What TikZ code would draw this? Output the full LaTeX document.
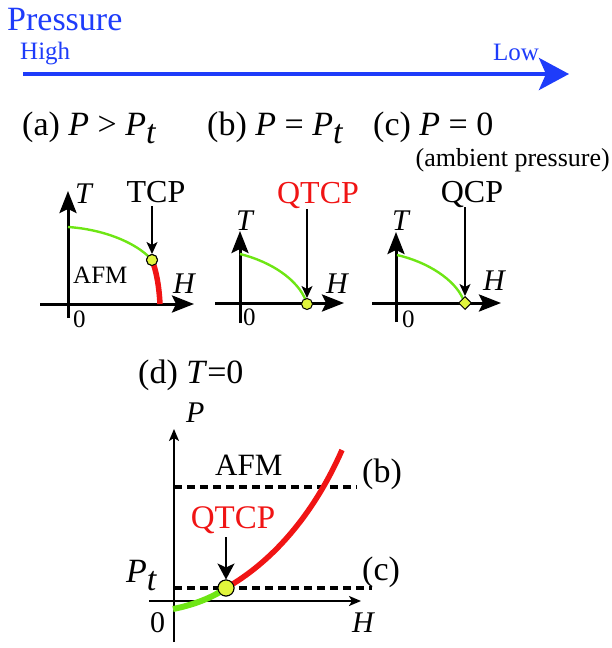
\documentclass[tikz,border=0pt]{standalone}
\usepackage{fontspec}
\setmainfont{Liberation Serif}
\usetikzlibrary{arrows.meta,shapes.geometric}
\definecolor{pblue}{RGB}{30,60,250}
\definecolor{cgreen}{RGB}{110,230,20}
\definecolor{cred}{RGB}{240,20,20}
\definecolor{cyel}{RGB}{225,245,60}
\tikzset{
  bigaxis/.style={line width=3pt,-{Stealth[length=22pt,width=17pt,inset=4pt]}},
  smallaxis/.style={line width=1.8pt,-{Stealth[length=12pt,width=10pt,inset=3pt]}},
  pointer/.style={line width=1.4pt,-{Stealth[length=12pt,width=11pt,inset=3pt]}},
  thingreen/.style={cgreen,line width=2.4pt},
  thickgreen/.style={cgreen,line width=6pt},
  thickred/.style={cred,line width=5.5pt},
  dline/.style={line width=3.4pt,dash pattern=on 8pt off 5pt},
  crit/.style={circle,draw=black,line width=1pt,fill=cyel,inner sep=0pt},
  lab/.style={inner sep=0pt,anchor=base west,font=\fontsize{34}{36}\selectfont},
  axlab/.style={inner sep=0pt,anchor=base west,font=\fontsize{30}{32}\selectfont\itshape},
  zlab/.style={inner sep=0pt,anchor=base west,font=\fontsize{25}{27}\selectfont},
}
\newcommand{\subt}{\raisebox{-8pt}{\textit{t}}}
\begin{document}
\begin{tikzpicture}[x=1pt,y=-1pt]
\useasboundingbox (0,0) rectangle (611,648);
% pressure arrow
\node[anchor=base west,inner sep=0pt,text=pblue,font=\fontsize{34}{36}\selectfont] (pr) at (7,30) {Pressure};
\node[anchor=base west,inner sep=0pt,text=pblue,font=\fontsize{25}{27}\selectfont] (hi) at (20,59) {High};
\node[anchor=base west,inner sep=0pt,text=pblue,font=\fontsize{25}{27}\selectfont] (lo) at (493,60) {Low};
\coordinate (pa) at (23,74);
\coordinate (pb) at (569,74);
\draw[pblue,line width=4pt,-{Stealth[length=30pt,width=32pt,inset=7pt]}] (pa) -- (pb);
% headings
\node[lab] (ha) at (22,135) {(a) \textit{P} > \textit{P}\subt};
\node[lab] (hb) at (207,135) {(b) \textit{P} = \textit{P}\subt};
\node[lab] (hc) at (373,135) {(c) \textit{P} = 0};
\node[inner sep=0pt,anchor=base east,font=\fontsize{26}{28}\selectfont] (amb) at (610,166) {(ambient pressure)};
% panel (a)
\coordinate (a0) at (68,318);
\coordinate (aT) at (68,191);
\coordinate (aL) at (40,304);
\coordinate (aH) at (194,304);
\draw[bigaxis] (a0) -- (aT);
\draw[bigaxis] (aL) -- (aH);
\node[axlab] (aTl) at (75,203) {T};
\node[axlab] (aHl) at (173,293) {H};
\node[zlab] (a0l) at (73,327) {0};
\node[inner sep=0pt,anchor=base west,font=\fontsize{25}{27}\selectfont] (afa) at (73,283) {AFM};
\node[inner sep=0pt,anchor=base,font=\fontsize{32}{34}\selectfont] (tcp) at (156,202) {TCP};
\node[crit,minimum size=11pt] (ca) at (152,260) {};
\draw[thingreen] (68,227) .. controls (100,229) and (135,241) .. (ca.center);
\draw[thickred] (ca.center) .. controls (156,270) and (159,285) .. (160,304);
\node[crit,minimum size=11pt] at (152,260) {};
\coordinate (aq) at (152,206);
\draw[pointer] (aq) -- (ca.north);
% panel (b)
\coordinate (b0) at (240,323);
\coordinate (bT) at (240,231);
\coordinate (bL) at (215,303);
\coordinate (bH) at (344,303);
\draw[bigaxis] (b0) -- (bT);
\draw[bigaxis] (bL) -- (bH);
\node[axlab] (bTl) at (236,230) {T};
\node[axlab] (bHl) at (326,293) {H};
\node[zlab] (b0l) at (243,325) {0};
\node[inner sep=0pt,anchor=base,text=cred,font=\fontsize{32}{34}\selectfont] (qtcp) at (318,203) {QTCP};
\draw[thingreen] (240,254) .. controls (272,262) and (298,280) .. (306,301);
\node[crit,minimum size=11pt] (cb) at (307,304) {};
\coordinate (bq) at (307,209);
\draw[pointer] (bq) -- (cb.north);
% panel (c)
\coordinate (c0) at (396,322);
\coordinate (cT) at (396,232);
\coordinate (cL) at (372,303);
\coordinate (cH) at (501,303);
\draw[bigaxis] (c0) -- (cT);
\draw[bigaxis] (cL) -- (cH);
\node[axlab] (cTl) at (392,230) {T};
\node[axlab] (cHl) at (483,290) {H};
\node[zlab] (c0l) at (402,327) {0};
\node[inner sep=0pt,anchor=base,font=\fontsize{32}{34}\selectfont] (qcp) at (472,202) {QCP};
\draw[thingreen] (397,255) .. controls (428,262) and (455,280) .. (463,299);
\node[diamond,draw=black,line width=1pt,fill=cyel,inner sep=0pt,minimum size=13pt] (cc) at (465,303) {};
\coordinate (cq) at (465,207);
\draw[pointer] (cq) -- (cc.north);
% panel (d)
\node[lab] (hd) at (138,383) {(d) \textit{T}=0};
\coordinate (d0) at (174,642);
\coordinate (dP) at (174,429);
\coordinate (dL) at (149,601);
\coordinate (dH) at (361,601);
\draw[smallaxis] (d0) -- (dP);
\draw[smallaxis] (dL) -- (dH);
\node[axlab] (dPl) at (186,422) {P};
\node[axlab] (dHl) at (352,632) {H};
\node[zlab,font=\fontsize{30}{32}\selectfont] (d0l) at (150,632) {0};
\node[axlab,font=\fontsize{34}{36}\selectfont\itshape] (dpt) at (126,582) {P\subt};
\coordinate (db1) at (174,487);
\coordinate (db2) at (357,487);
\coordinate (dc1) at (174,588);
\coordinate (dc2) at (372,588);
\draw[dline] (db1) -- (db2);
\draw[dline] (dc1) -- (dc2);
\node[lab] (dbl) at (362,482) {(b)};
\node[lab] (dcl) at (362,580) {(c)};
\node[inner sep=0pt,anchor=base west,font=\fontsize{31}{33}\selectfont] (afd) at (215,475) {AFM};
\coordinate (dg) at (173,609);
\coordinate (dr) at (342,450);
\node[crit,minimum size=16pt] (cd) at (226,588) {};
\draw[thickgreen] (dg) .. controls (193,605) and (212,598) .. (cd.center);
\draw[thickred] (cd.center) .. controls (270,563) and (312,518) .. (dr);
\node[crit,minimum size=16pt] at (226,588) {};
\node[inner sep=0pt,anchor=base,text=cred,font=\fontsize{33}{35}\selectfont] (qtd) at (233,528) {QTCP};
\coordinate (dq) at (226,537);
\draw[line width=1.8pt,-{Stealth[length=16pt,width=17pt,inset=4pt]}] (dq) -- (cd.north);
\end{tikzpicture}
\end{document}
